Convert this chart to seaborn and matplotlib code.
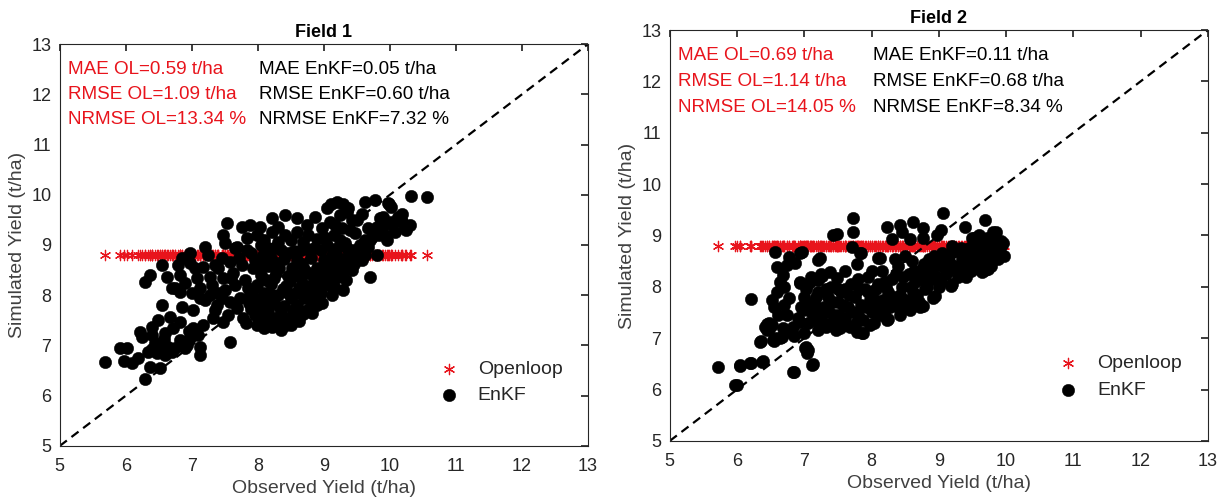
"""Observed vs simulated yield for two fields: open loop vs EnKF assimilation."""
import numpy as np
import pandas as pd
import seaborn as sns
import matplotlib.pyplot as plt

LIMITS = [5, 13]
TICKS = [5, 6, 7, 8, 9, 10, 11, 12, 13]
OPENLOOP_YIELD = {"Field 1": 8.8, "Field 2": 8.8}

# (observed, EnKF simulated) pairs
FIELD1_POINTS = [
    (5.68, 6.67), (5.91, 6.95), (6.02, 6.95), (5.98, 6.69), (6.09, 6.65), (6.18, 6.75), (6.21, 7.27), (6.24, 7.17),
    (6.39, 7.37), (6.39, 7.21), (6.29, 6.33), (6.36, 6.57), (6.52, 6.55), (6.33, 6.87), (6.47, 6.85), (6.59, 6.81),
    (6.70, 6.87), (6.64, 6.97), (6.52, 7.01), (6.48, 7.51), (6.67, 7.57), (6.82, 7.47), (6.55, 7.81), (6.71, 7.35),
    (6.85, 7.77), (7.02, 7.71), (6.92, 7.01), (7.12, 6.97), (7.12, 6.81), (6.82, 7.11), (6.97, 7.15), (6.89, 6.95),
    (7.02, 7.35), (7.17, 7.41), (7.32, 7.55), (7.47, 7.47), (7.58, 7.07), (6.70, 8.14), (6.82, 8.06), (6.44, 7.05),
    (6.58, 7.12), (6.40, 6.92), (6.75, 6.95), (6.60, 7.25), (6.95, 7.28), (7.10, 7.20),
    (6.36, 8.40), (6.29, 8.26), (6.55, 8.60), (6.79, 8.60), (6.97, 8.64), (7.17, 8.56), (7.35, 8.60), (6.62, 8.36),
    (6.82, 8.40), (7.08, 8.34), (7.27, 8.36), (7.47, 8.34), (7.62, 8.44), (6.97, 8.84), (7.20, 8.96), (7.58, 8.66),
    (7.76, 8.60), (7.92, 8.54), (8.08, 8.80), (6.74, 8.14), (6.90, 8.25), (7.00, 8.05), (7.12, 8.15), (7.30, 8.20),
    (7.40, 8.05), (7.20, 7.90), (7.35, 7.70), (6.85, 8.75), (7.05, 8.55), (7.45, 8.75), (7.25, 8.80), (7.40, 8.55),
    (7.12, 7.95), (7.27, 8.00), (7.38, 7.81), (7.58, 7.87), (7.73, 7.95), (7.88, 8.00), (8.03, 7.81), (8.14, 7.61),
    (7.77, 7.55), (7.98, 7.41), (7.50, 8.10), (7.65, 8.20), (7.80, 8.30), (7.55, 7.60), (7.68, 7.75), (7.45, 7.95),
    (7.60, 8.35), (7.85, 8.15),
    (8.10, 7.35), (8.21, 7.37), (8.45, 7.55), (8.74, 7.71), (8.89, 7.81), (8.91, 7.97), (9.17, 8.14), (9.29, 8.10),
    (7.95, 7.60), (8.05, 7.50), (8.15, 7.70), (8.30, 7.45), (8.35, 7.62), (8.55, 7.58), (8.60, 7.80), (8.40, 7.78),
    (8.25, 7.85), (8.00, 7.90), (7.90, 7.72), (8.10, 8.05), (8.30, 8.00), (8.50, 7.95), (8.70, 7.95), (8.80, 8.10),
    (8.62, 8.15), (8.42, 8.18), (8.20, 8.22), (7.98, 8.20), (8.05, 8.40), (8.25, 8.35), (8.45, 8.38), (8.65, 8.35),
    (8.85, 8.30), (9.00, 8.25), (9.05, 8.45), (8.90, 8.55), (8.70, 8.52), (8.52, 8.55), (8.32, 8.55), (8.15, 8.58),
    (7.95, 8.70), (8.20, 8.75), (8.40, 8.72), (8.60, 8.70), (8.80, 8.75), (9.00, 8.70), (9.15, 8.60), (8.35, 8.90),
    (8.55, 8.88), (8.75, 8.92), (8.15, 8.95), (8.95, 8.90), (8.50, 7.40), (8.35, 7.30), (8.68, 7.62), (8.25, 7.55),
    (8.80, 7.88), (8.12, 7.90), (8.45, 8.05), (8.58, 8.40), (8.28, 8.65), (8.70, 8.20), (9.10, 8.35), (9.20, 8.50),
    (8.95, 8.05), (9.12, 8.80), (7.82, 7.45), (7.87, 7.85), (7.93, 8.10), (8.00, 7.65), (8.02, 8.55), (8.08, 7.78),
    (8.12, 8.30), (8.18, 7.50), (8.22, 8.00), (8.27, 8.45), (8.33, 7.75), (8.38, 8.12), (8.43, 7.40), (8.48, 8.28),
    (8.53, 7.70), (8.57, 8.05), (8.63, 7.48), (8.67, 8.62), (8.72, 8.05), (8.77, 8.45), (8.82, 7.65), (8.87, 8.15),
    (8.93, 8.40), (8.97, 7.85), (9.02, 8.55), (9.07, 8.20), (9.13, 8.00), (9.18, 8.35), (9.23, 8.75), (9.28, 8.45),
    (9.33, 8.30), (9.38, 8.85), (9.42, 8.50),
    (7.53, 9.44), (7.47, 9.20), (7.50, 9.04), (7.76, 9.36), (7.88, 9.40), (8.03, 9.36), (7.83, 9.14), (7.98, 9.20),
    (7.68, 8.96), (7.83, 8.90), (8.21, 9.54), (8.41, 9.60), (8.59, 9.54), (8.86, 9.56), (8.21, 9.26), (8.41, 9.20),
    (8.60, 9.26), (8.76, 9.20), (8.97, 9.34), (9.17, 9.40), (9.09, 9.46), (9.27, 9.34), (9.47, 9.24), (8.10, 9.10),
    (8.30, 9.05), (8.50, 9.10), (8.68, 9.05), (8.90, 9.12), (9.05, 9.00), (9.25, 9.10), (9.32, 9.04), (9.40, 9.30),
    (8.05, 9.00), (8.30, 9.35), (8.75, 9.40), (7.65, 8.95), (7.72, 8.75), (7.90, 8.85), (8.10, 8.65), (8.25, 8.95),
    (8.45, 8.85), (8.65, 8.90), (8.85, 8.95), (9.00, 9.15), (9.15, 9.20), (9.35, 8.95), (9.55, 9.00),
    (9.05, 9.74), (9.20, 9.86), (9.36, 9.74), (9.62, 9.86), (9.77, 9.90), (9.97, 9.84), (10.32, 9.98), (10.56, 9.96),
    (9.67, 9.34), (9.85, 9.54), (10.03, 9.40), (10.12, 9.56), (10.23, 9.36), (9.73, 9.16), (9.92, 9.20), (9.62, 9.10),
    (9.52, 8.76), (9.62, 8.80), (9.70, 8.36), (9.36, 8.66), (9.27, 8.60), (9.10, 9.82), (9.29, 9.82), (9.43, 9.49),
    (9.58, 9.62), (9.99, 9.82), (10.01, 9.75), (10.19, 9.62), (10.16, 9.49), (10.25, 9.29), (9.90, 9.55), (10.01, 9.45),
    (9.84, 9.19), (9.96, 9.09), (9.67, 8.96), (9.46, 8.63), (9.58, 8.70), (9.35, 9.65), (9.50, 9.50), (9.25, 9.60),
    (9.80, 9.35), (10.30, 9.40), (9.45, 8.90), (9.20, 8.95), (9.70, 9.10), (9.80, 8.80), (9.88, 9.35), (10.08, 9.25),
    (10.18, 9.45),
]

FIELD2_POINTS = [
    (5.72, 6.43), (5.97, 6.09), (6.04, 6.46), (6.19, 6.52), (6.37, 6.54), (6.21, 7.76), (6.83, 6.35), (7.11, 6.48),
    (7.01, 6.81), (7.04, 6.72), (6.34, 6.93), (6.41, 7.22), (6.52, 7.26), (6.61, 7.45), (6.53, 6.97), (6.67, 7.03),
    (6.68, 7.20), (6.83, 7.22), (6.93, 7.32), (6.52, 7.75), (6.78, 7.79), (6.45, 7.15), (6.47, 7.30), (6.58, 7.00),
    (6.55, 7.60), (6.60, 7.90), (6.70, 7.65), (6.75, 7.45), (6.85, 7.05),
    (6.56, 8.68), (6.78, 8.58), (6.93, 8.66), (7.20, 8.53), (6.59, 8.39), (6.74, 8.43), (6.86, 8.47), (6.68, 8.23),
    (6.64, 8.10), (6.93, 8.08), (7.04, 8.04), (7.20, 8.14), (7.38, 8.29), (7.48, 8.17), (7.48, 9.02), (7.42, 9.01),
    (7.72, 9.34), (7.72, 9.07), (7.71, 8.78), (7.84, 8.66), (6.70, 8.00), (7.10, 8.20), (7.25, 8.25), (7.60, 8.30),
    (7.78, 8.45),
    (6.90, 7.40), (6.95, 7.60), (7.00, 7.80), (7.05, 7.30), (7.10, 7.50), (7.15, 7.70), (7.20, 7.90), (7.25, 7.40),
    (7.30, 7.60), (7.33, 7.22), (7.35, 7.80), (7.40, 8.00), (7.45, 7.45), (7.50, 7.70), (7.53, 7.20), (7.55, 7.90),
    (7.60, 7.40), (7.65, 7.60), (7.68, 7.22), (7.70, 8.05), (7.75, 7.80), (7.78, 7.12), (7.80, 7.45), (7.85, 7.65),
    (7.86, 7.10), (7.90, 7.95), (7.95, 8.20), (7.97, 7.26), (8.00, 7.50), (8.05, 7.75), (8.10, 8.05), (8.15, 8.30),
    (8.20, 7.55), (8.23, 7.36), (8.25, 7.90), (8.30, 8.15), (8.35, 7.70), (8.40, 8.40), (8.42, 7.45), (8.45, 8.00),
    (8.50, 7.75), (8.55, 8.25), (8.57, 7.55), (8.60, 8.50), (8.62, 7.90), (8.65, 8.10), (8.70, 7.70), (8.72, 7.61),
    (8.75, 8.35), (8.80, 7.95), (8.85, 8.55), (8.90, 8.15), (8.91, 7.79), (8.95, 8.40), (9.00, 8.00), (9.05, 8.65),
    (9.10, 8.25), (9.15, 8.50), (9.20, 8.05), (9.25, 8.70), (9.30, 8.35), (9.35, 8.55), (9.40, 8.20), (9.42, 8.29),
    (9.45, 8.75), (9.50, 8.45), (9.55, 8.65), (9.60, 8.35), (9.65, 8.85), (9.68, 8.33), (9.70, 8.55), (9.75, 8.75),
    (9.80, 8.60), (9.85, 8.85), (9.90, 8.70), (9.93, 8.90), (7.00, 7.10), (7.20, 7.15), (7.40, 7.30), (7.60, 7.95),
    (7.95, 7.90), (8.35, 8.55), (8.10, 7.60), (8.50, 8.60), (8.80, 8.20), (9.05, 8.40), (8.00, 8.30), (7.50, 7.95),
    (7.80, 8.15), (8.20, 8.10), (8.60, 7.70), (8.40, 7.60), (9.20, 8.80), (9.60, 9.00), (9.50, 8.95),
    (6.98, 7.55), (7.03, 7.95), (7.08, 7.65), (7.13, 7.35), (7.18, 7.80), (7.23, 7.55), (7.28, 7.25), (7.32, 7.95),
    (7.37, 7.50), (7.42, 7.70), (7.47, 7.15), (7.52, 7.45), (7.57, 7.65), (7.62, 7.25), (7.67, 7.85), (7.72, 7.50),
    (7.77, 7.30), (7.82, 7.95), (7.88, 7.35), (7.92, 7.60), (7.97, 7.75), (8.03, 7.30), (8.07, 7.95), (8.12, 7.45),
    (8.17, 7.75), (8.22, 8.00), (8.27, 7.60), (8.32, 7.80), (8.37, 8.25), (8.43, 7.85), (8.47, 8.20), (8.52, 7.60),
    (8.58, 8.00), (8.63, 8.30), (8.68, 7.85), (8.73, 8.15), (8.78, 8.45), (8.83, 8.00), (8.88, 8.35), (8.93, 8.60),
    (8.98, 8.20), (9.03, 8.10), (9.08, 8.55), (9.13, 8.30), (9.18, 8.65), (9.23, 8.40), (9.28, 8.20), (9.33, 8.75),
    (9.38, 8.45), (9.43, 8.60), (9.48, 8.30), (9.53, 8.80), (9.58, 8.50), (9.63, 8.70), (9.67, 8.45), (9.72, 8.95),
    (9.78, 8.40), (9.82, 8.75), (9.88, 8.55), (9.92, 8.80), (9.95, 8.85), (9.97, 8.60),
    (8.23, 9.17), (8.42, 9.21), (8.61, 9.26), (8.76, 9.15), (8.45, 9.07), (8.30, 8.93), (8.57, 8.93), (8.76, 8.95),
    (8.97, 9.01), (9.04, 9.11), (9.06, 9.44), (9.39, 9.17), (9.68, 9.30), (9.80, 9.07), (9.57, 8.97), (9.71, 8.86),
    (9.86, 8.88), (8.09, 8.56), (7.83, 8.66), (8.13, 8.57), (8.24, 7.37), (8.77, 7.63), (8.94, 7.82), (9.18, 8.02),
    (9.64, 8.28), (9.73, 8.34), (9.85, 9.06), (9.90, 8.83), (9.70, 8.86), (9.53, 8.96), (7.87, 7.11), (7.49, 7.23),
    (7.26, 8.21), (7.23, 8.57), (7.08, 8.09), (6.97, 8.67), (6.94, 8.09), (7.02, 6.83), (7.05, 6.76), (7.13, 6.50),
    (6.84, 6.34), (6.82, 7.11), (6.64, 7.01), (6.55, 6.95), (6.36, 6.95), (6.44, 7.27), (6.47, 7.17), (6.38, 6.56),
    (6.21, 6.52), (6.05, 6.47), (6.00, 6.09),
]

FIELD1_STATS_OL = ["MAE OL=0.59 t/ha", "RMSE OL=1.09 t/ha", "NRMSE OL=13.34 %"]
FIELD1_STATS_ENKF = ["MAE EnKF=0.05 t/ha", "RMSE EnKF=0.60 t/ha", "NRMSE EnKF=7.32 %"]
FIELD2_STATS_OL = ["MAE OL=0.69 t/ha", "RMSE OL=1.14 t/ha", "NRMSE OL=14.05 %"]
FIELD2_STATS_ENKF = ["MAE EnKF=0.11 t/ha", "RMSE EnKF=0.68 t/ha", "NRMSE EnKF=8.34 %"]
STAT_ROWS = [12.5, 12.0, 11.5]

RED = "#e8141c"
INK = "#262626"


def draw_field(ax, title, points, stats_ol, stats_enkf):
    df = pd.DataFrame(points, columns=["observed", "enkf"])
    df["openloop"] = OPENLOOP_YIELD[title]
    sns.lineplot(x=LIMITS, y=LIMITS, color="black", lw=1.6, dashes=False, ax=ax)
    ax.lines[-1].set_dashes((4, 2.6))
    sns.scatterplot(data=df, x="observed", y="openloop", marker=(6, 2, 0), color=RED, edgecolor=RED,
                    s=55, linewidth=0.9, label="Openloop", ax=ax)
    sns.scatterplot(data=df, x="observed", y="enkf", marker="o", color="black", edgecolor="black",
                    s=80, linewidth=0.3, label="EnKF", ax=ax)
    for row, ol, ek in zip(STAT_ROWS, stats_ol, stats_enkf):
        ax.text(5.12, row, ol, color=RED, fontsize=13.6, va="center", ha="left")
        ax.text(8.02, row, ek, color="black", fontsize=13.6, va="center", ha="left")
    ax.set_xlim(LIMITS)
    ax.set_ylim(LIMITS)
    ax.set_xticks(TICKS)
    ax.set_yticks(TICKS)
    ax.tick_params(direction="in", top=True, right=True, length=5, labelsize=13, colors=INK, pad=6)
    ax.tick_params(axis="x", pad=9)
    for spine in ax.spines.values():
        spine.set_color(INK)
        spine.set_linewidth(0.8)
    ax.set_xlabel("Observed Yield (t/ha)", fontsize=14, color="#404040", labelpad=3)
    ax.set_ylabel("Simulated Yield (t/ha)", fontsize=14, color="#404040", labelpad=4)
    ax.set_title(title, fontsize=13, fontweight="bold", color="black", pad=5)
    ax.legend(loc="lower right", bbox_to_anchor=(0.985, 0.06), frameon=False, fontsize=14,
              handlelength=1.0, handletextpad=1.0, labelspacing=0.45, markerscale=1.0)


def main():
    sns.set_theme(style="white")
    plt.rcParams["font.family"] = ["Liberation Sans", "DejaVu Sans"]
    fig = plt.figure(figsize=(12.2, 5.01), dpi=100)
    ax1 = fig.add_axes([0.049, 0.110, 0.433, 0.802])
    ax2 = fig.add_axes([0.549, 0.120, 0.441, 0.820])
    draw_field(ax1, "Field 1", FIELD1_POINTS, FIELD1_STATS_OL, FIELD1_STATS_ENKF)
    draw_field(ax2, "Field 2", FIELD2_POINTS, FIELD2_STATS_OL, FIELD2_STATS_ENKF)
    fig.savefig("out.png", dpi=100, facecolor="white")
    plt.close(fig)


if __name__ == "__main__":
    main()
